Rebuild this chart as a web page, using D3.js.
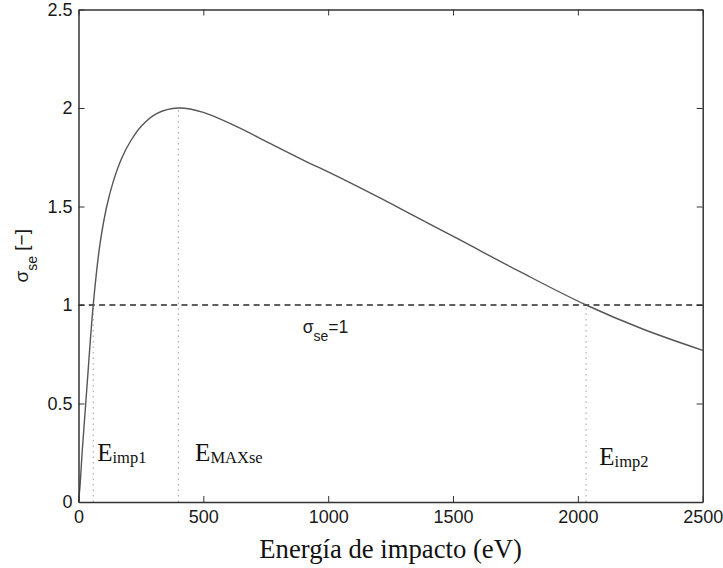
<!DOCTYPE html>
<html>
<head>
<meta charset="utf-8">
<script src="https://cdn.jsdelivr.net/npm/d3@7"></script>
<style>
  html, body { margin: 0; padding: 0; background: #fff; }
  svg { display: block; }
</style>
</head>
<body>
<div id="chart"></div>
<script>
// secondary emission yield curve
const energy = [0, 6, 15, 33, 59, 85, 113, 140, 173, 210, 253, 313, 400, 500, 634, 767, 900, 1047, 1287, 1528, 1768, 2033, 2262, 2500];
const sigma = [0, 0.08, 0.26, 0.57, 1.0, 1.3, 1.5, 1.63, 1.745, 1.835, 1.91, 1.972, 2.0, 1.978, 1.905, 1.82, 1.736, 1.646, 1.491, 1.33, 1.169, 1.0, 0.877, 0.77];

const xTicks = [0, 500, 1000, 1500, 2000, 2500];
const yTicks = [0, 0.5, 1, 1.5, 2, 2.5];
const yTickLabels = ["0", "0.5", "1", "1.5", "2", "2.5"];

// vertical dotted guides: energy and the yield they reach
const guideEnergy = [59, 400, 2033];
const guideTop = [1, 2, 1];

// annotation labels (main letter + subscript), placed in data units
const markLabels = ["E", "E", "E"];
const markSubs = ["imp1", "MAXse", "imp2"];
const markE = [75, 467, 2086];
const markSigma = [0.21, 0.21, 0.188];

const unityLevel = 1;

(function () {
  const width = 723;
  const height = 568;
  const margin = { top: 9.5, right: 20.3, bottom: 66, left: 78.5 };
  const sans = "Liberation Sans, Arial, Helvetica, sans-serif";
  const serif = "Liberation Serif, Times New Roman, serif";

  const svg = d3.select("#chart").append("svg").attr("width", width).attr("height", height);

  const x = d3.scaleLinear().domain([0, 2500]).range([margin.left, width - margin.right]);
  const y = d3.scaleLinear().domain([0, 2.5]).range([height - margin.bottom, margin.top]);

  const axisColor = "#333";
  const tickLen = 6;

  // dotted guides
  svg
    .append("g")
    .selectAll("line")
    .data(guideEnergy)
    .join("line")
    .attr("x1", (d) => x(d))
    .attr("x2", (d) => x(d))
    .attr("y1", y(0))
    .attr("y2", (d, i) => y(guideTop[i]))
    .attr("stroke", "#a0a0a0")
    .attr("stroke-width", 1)
    .attr("stroke-dasharray", "1.5,4");

  // dashed unity line
  svg
    .append("line")
    .attr("x1", x(0))
    .attr("x2", x(2500))
    .attr("y1", y(unityLevel))
    .attr("y2", y(unityLevel))
    .attr("stroke", "#2a2a2a")
    .attr("stroke-width", 1.3)
    .attr("stroke-dasharray", "6,4.3");

  // curve
  const line = d3
    .line()
    .x((d) => x(d[0]))
    .y((d) => y(d[1]))
    .curve(d3.curveCatmullRom.alpha(0.5));
  svg
    .append("path")
    .datum(energy.map((e, i) => [e, sigma[i]]))
    .attr("d", line)
    .attr("fill", "none")
    .attr("stroke", "#555")
    .attr("stroke-width", 1.4);

  // axes: bottom / left with labels, top / right ticks only (matlab box)
  const styleAxis = (g) => {
    g.attr("font-family", sans).attr("font-size", 18);
    g.selectAll("path.domain").attr("stroke", axisColor).attr("stroke-width", 1.5);
    g.selectAll(".tick line").attr("stroke", axisColor).attr("stroke-width", 1);
    g.selectAll("text").attr("fill", "#1a1a1a");
  };

  svg
    .append("g")
    .attr("transform", `translate(0,${y(0)})`)
    .call(d3.axisBottom(x).tickValues(xTicks).tickFormat(d3.format("d")).tickSizeInner(-tickLen).tickSizeOuter(0).tickPadding(8))
    .call(styleAxis);

  svg
    .append("g")
    .attr("transform", `translate(0,${y(2.5)})`)
    .call(d3.axisTop(x).tickValues(xTicks).tickFormat("").tickSizeInner(-tickLen).tickSizeOuter(0))
    .call(styleAxis);

  svg
    .append("g")
    .attr("transform", `translate(${x(0)},0)`)
    .call(d3.axisLeft(y).tickValues(yTicks).tickFormat((d, i) => yTickLabels[i]).tickSizeInner(-tickLen).tickSizeOuter(0).tickPadding(6))
    .call(styleAxis);

  svg
    .append("g")
    .attr("transform", `translate(${x(2500)},0)`)
    .call(d3.axisRight(y).tickValues(yTicks).tickFormat("").tickSizeInner(-tickLen).tickSizeOuter(0))
    .call(styleAxis);

  // y title: sigma_se [-]
  const yTitle = svg
    .append("text")
    .attr("transform", `translate(28,${(y(0) + y(2.5)) / 2}) rotate(-90)`)
    .attr("text-anchor", "middle")
    .attr("font-family", sans)
    .attr("font-size", 19)
    .attr("fill", "#1a1a1a");
  yTitle.append("tspan").text("σ");
  yTitle.append("tspan").attr("font-size", 14).attr("dy", 8.5).text("se");
  yTitle.append("tspan").attr("dy", -8.5).text(" [−]");

  // unity label
  const unity = svg
    .append("text")
    .attr("x", x(898))
    .attr("y", y(0.858))
    .attr("font-family", sans)
    .attr("font-size", 17.5)
    .attr("fill", "#1a1a1a");
  unity.append("tspan").text("σ");
  unity.append("tspan").attr("font-size", 14).attr("dy", 8.5).text("se");
  unity.append("tspan").attr("dy", -8.5).text("=1");

  // energy annotations
  markLabels.forEach((label, i) => {
    const t = svg
      .append("text")
      .attr("font-family", serif)
      .attr("fill", "#111")
      .attr("x", x(markE[i]))
      .attr("y", y(markSigma[i]))
      .attr("font-size", 25);
    t.append("tspan").text(label);
    t.append("tspan").attr("font-size", 16.5).attr("dy", 2.5).text(markSubs[i]);
  });

  // x title
  svg
    .append("text")
    .attr("font-family", serif)
    .attr("fill", "#111")
    .attr("x", (x(0) + x(2500)) / 2)
    .attr("y", 558)
    .attr("text-anchor", "middle")
    .attr("font-size", 26.7)
    .text("Energía de impacto (eV)");
})();
</script>
</body>
</html>
